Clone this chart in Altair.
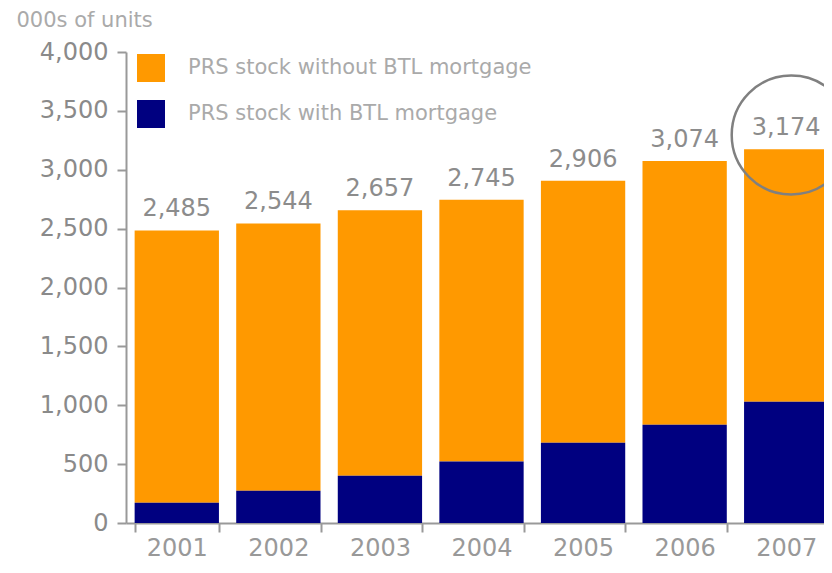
import altair as alt
import pandas as pd

years = ["2001", "2002", "2003", "2004", "2005", "2006", "2007"]
totals = [2485, 2544, 2657, 2745, 2906, 3074, 3174]
with_btl = [172, 274, 401, 523, 682, 835, 1030]
without_btl = [2313, 2270, 2256, 2222, 2224, 2239, 2144]
series = ["PRS stock without BTL mortgage", "PRS stock with BTL mortgage"]
colors = ["#FF9900", "#000080"]
y_ticks = [0, 500, 1000, 1500, 2000, 2500, 3000, 3500, 4000]
highlight_year = ["2007"]
highlight_value = [3295]

FONT = "DejaVu Sans"

rows = []
for i, yr in enumerate(years):
    rows.append({"year": yr, "series": series[0], "value": without_btl[i], "order": 1})
    rows.append({"year": yr, "series": series[1], "value": with_btl[i], "order": 0})
df = pd.DataFrame(rows)
tot_df = pd.DataFrame({"year": years, "total": totals})
circ_df = pd.DataFrame({"year": highlight_year, "value": highlight_value})

x_scale = alt.Scale(domain=years, range=[0, 711], paddingInner=0.17, paddingOuter=0.085)
y_scale = alt.Scale(domain=[0, 4000], nice=False)

bars = alt.Chart(df).mark_bar().encode(
    x=alt.X("year:N", scale=x_scale, sort=years,
            axis=alt.Axis(title=None, labelAngle=0, labelFontSize=24, labelColor="#999999",
                          labelFont=FONT, tickBand="extent", tickSize=9, tickWidth=2,
                          tickColor="#999999", domainColor="#999999", domainWidth=2,
                          labelPadding=4)),
    y=alt.Y("value:Q", stack="zero", scale=y_scale,
            axis=alt.Axis(values=y_ticks, format=",d", grid=False, labelFontSize=24,
                          labelColor="#8a8a8a", labelFont=FONT, tickSize=9, tickWidth=2,
                          tickColor="#999999", domainColor="#999999", domainWidth=2,
                          labelPadding=9, title="000s of units", titleAngle=0,
                          titleAlign="left", titleBaseline="alphabetic", titleX=-110,
                          titleY=-26, titleFontSize=21, titleFontWeight="normal",
                          titleColor="#aaaaaa", titleFont=FONT)),
    color=alt.Color("series:N", scale=alt.Scale(domain=series, range=colors),
                    legend=alt.Legend(title=None, orient="none", legendX=11, legendY=2,
                                      symbolType="square", symbolSize=784,
                                      symbolStrokeWidth=0, labelFontSize=21,
                                      labelColor="#aaaaaa", labelFont=FONT,
                                      labelOffset=23, rowPadding=18, labelLimit=0)),
    order=alt.Order("order:Q"),
)

labels = alt.Chart(tot_df).mark_text(fontSize=24, color="#8c8c8c", font=FONT,
                                     baseline="alphabetic", dy=-14).encode(
    x=alt.X("year:N", scale=x_scale, sort=years),
    y=alt.Y("total:Q", scale=y_scale),
    text=alt.Text("total:Q", format=",d"),
)

circle = alt.Chart(circ_df).mark_point(shape="circle", filled=False, size=14161,
                                       stroke="#808080", strokeWidth=2.5, xOffset=5,
                                       opacity=1).encode(
    x=alt.X("year:N", scale=x_scale, sort=years),
    y=alt.Y("value:Q", scale=y_scale),
)

chart = alt.layer(bars, labels, circle).properties(
    width=698, height=471,
    autosize=alt.AutoSizeParams(type="none"),
    padding={"left": 118, "top": 44, "right": 0, "bottom": 42},
).configure_view(stroke=None)

chart.save("out.html", embed_options={"renderer": "svg", "actions": False})
